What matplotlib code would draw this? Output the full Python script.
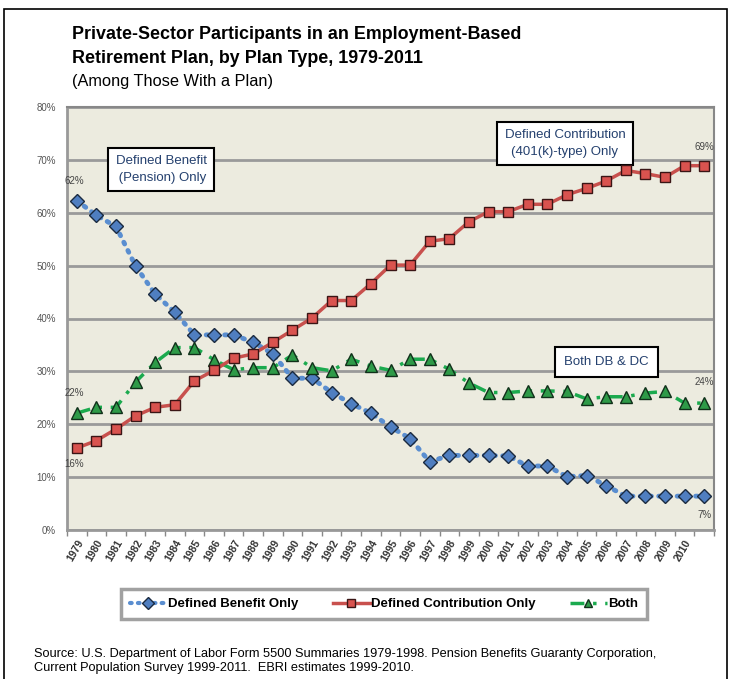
import numpy as np
import matplotlib.pyplot as plt
from matplotlib.patches import Rectangle
from matplotlib.lines import Line2D

plt.rcParams['font.family'] = ['Liberation Sans', 'DejaVu Sans']

# data (percent of participants with a plan)
years = list(range(1979, 2012))
tick_labels = [str(y) for y in range(1979, 2011)]
db_only = [62.3, 59.5, 57.4, 49.9, 44.6, 41.2, 36.9, 36.9, 36.9, 35.5, 33.3,
           28.7, 28.7, 26.0, 23.9, 22.1, 19.5, 17.3, 12.9, 14.1, 14.1, 14.1,
           14.0, 12.1, 12.1, 10.1, 10.3, 8.4, 6.4, 6.4, 6.4, 6.4, 6.4]
dc_only = [15.5, 16.9, 19.1, 21.6, 23.2, 23.7, 28.2, 30.2, 32.5, 33.3, 35.5,
           37.8, 40.1, 43.4, 43.4, 46.6, 50.1, 50.1, 54.6, 55.1, 58.3, 60.2,
           60.2, 61.6, 61.6, 63.4, 64.6, 66.0, 68.0, 67.4, 66.7, 68.9, 68.9]
both = [22.1, 23.2, 23.2, 28.0, 31.7, 34.5, 34.5, 32.2, 30.3, 30.7, 30.7,
        33.1, 30.7, 30.1, 32.3, 31.0, 30.2, 32.3, 32.3, 30.4, 27.8, 26.0,
        26.0, 26.3, 26.3, 26.2, 24.8, 25.2, 25.2, 25.9, 26.2, 24.0, 24.0]

W, H = 730, 679
fig = plt.figure(figsize=(W / 100, H / 100), dpi=100)


def px(x0, y0, x1, y1):
    return [x0 / W, 1 - y1 / H, (x1 - x0) / W, (y1 - y0) / H]


# outer frame
fig.patches.append(Rectangle((4 / W, -0.05), 723 / W, 1.05 - 9 / H, transform=fig.transFigure,
                             fill=False, edgecolor='black', linewidth=1.2))

fig.text(72 / W, 1 - 39 / H, 'Private-Sector Participants in an Employment-Based',
         fontsize=12.9, fontweight='bold', va='baseline', ha='left')
fig.text(72 / W, 1 - 63 / H, 'Retirement Plan, by Plan Type, 1979-2011',
         fontsize=12.9, fontweight='bold', va='baseline', ha='left')
fig.text(72 / W, 1 - 86 / H, '(Among Those With a Plan)', fontsize=11.8, va='baseline', ha='left')

ax = fig.add_axes(px(67, 107, 714, 530))
ax.set_facecolor('#ECEBDF')
x = np.arange(len(years))

db_style = dict(color='#5A8ED0', linestyle=(0, (0.4, 1.5)), dash_capstyle='round')
ax.plot(x, db_only, linewidth=3.5, **db_style,
        marker='D', markersize=7, markerfacecolor='#4F7EC0', markeredgecolor='#1A2A40',
        markeredgewidth=1, zorder=3)
ax.plot(x, dc_only, color='#C8504D', linestyle='-', linewidth=2.5,
        marker='s', markersize=7, markerfacecolor='#D9534F', markeredgecolor='#3A1515',
        markeredgewidth=1, zorder=4)
ax.plot(x, both, color='#1BAA4E', linestyle=(0, (4, 2.5, 1, 2.5)), linewidth=2.5,
        marker='^', markersize=8, markerfacecolor='#2E9A48', markeredgecolor='#10301A',
        markeredgewidth=1, zorder=3)

ax.set_xlim(-0.5, 32.5)
ax.set_ylim(0, 80)
ax.set_yticks(range(0, 81, 10))
ax.set_yticklabels([f'{v}%' for v in range(0, 81, 10)])
ax.yaxis.grid(True, color='#9A9A9A', linewidth=2)
ax.set_axisbelow(True)
ax.tick_params(axis='y', length=0, labelsize=7, labelcolor='#555555', pad=8)

ax.set_xticks(np.arange(-0.5, 33, 1))
ax.set_xticklabels([])
ax.set_xticks(np.arange(len(tick_labels)), minor=True)
ax.set_xticklabels(tick_labels, minor=True, rotation=60, ha='right', va='top',
                   rotation_mode='anchor', fontsize=7.5, fontweight='bold', color='#333333')
ax.tick_params(axis='x', which='major', length=4, color='#888888', width=1)
ax.tick_params(axis='x', which='minor', length=0, pad=6)

for s in ['left', 'bottom']:
    ax.spines[s].set_color('#999999')
    ax.spines[s].set_linewidth(2)
for s in ['top', 'right']:
    ax.spines[s].set_color('#888888')
    ax.spines[s].set_linewidth(1.5)

# point labels
lab = dict(fontsize=7, color='#444444')
ax.annotate('62%', (x[0], db_only[0]), xytext=(-2, 12), textcoords='offset points', ha='center', **lab)
ax.annotate('16%', (x[0], dc_only[0]), xytext=(-2, -14), textcoords='offset points', ha='center', **lab)
ax.annotate('22%', (x[0], both[0]), xytext=(-2, 12), textcoords='offset points', ha='center', **lab)
ax.annotate('69%', (x[-1], dc_only[-1]), xytext=(0, 11), textcoords='offset points', ha='center', **lab)
ax.annotate('24%', (x[-1], both[-1]), xytext=(0, 13), textcoords='offset points', ha='center', **lab)
ax.annotate('7%', (x[-1], db_only[-1]), xytext=(0, -16), textcoords='offset points', ha='center', **lab)

box = dict(boxstyle='square,pad=0.55', facecolor='white', edgecolor='black', linewidth=1.5)
ax.text(4.3, 68.2, 'Defined Benefit\n (Pension) Only', fontsize=9.5, color='#24406E',
        ha='center', va='center', bbox=box, linespacing=1.5)
ax.text(24.9, 73.1, 'Defined Contribution\n(401(k)-type) Only', fontsize=9.5, color='#24406E',
        ha='center', va='center', bbox=box, linespacing=1.5)
ax.text(27.0, 31.8, 'Both DB & DC', fontsize=9.5, color='#24406E',
        ha='center', va='center', bbox=dict(boxstyle='square,pad=0.7', facecolor='white',
                                             edgecolor='black', linewidth=1.5))

handles = [
    Line2D([], [], linewidth=3, **db_style, marker='D', markersize=6,
           markerfacecolor='#4F7EC0', markeredgecolor='#1A2A40'),
    Line2D([], [], color='#C8504D', linewidth=2.5, marker='s', markersize=6,
           markerfacecolor='#D9534F', markeredgecolor='#3A1515'),
    Line2D([], [], color='#1BAA4E', linestyle=(0, (4, 2.5, 1, 2.5)), linewidth=2.5, marker='^', markersize=6,
           markerfacecolor='#2E9A48', markeredgecolor='#10301A'),
]
leg = fig.legend(handles, ['Defined Benefit Only', 'Defined Contribution Only', 'Both'],
                 loc='center', bbox_to_anchor=(384 / W, 1 - 604 / H), ncol=3, frameon=True,
                 fancybox=False, edgecolor='#8A8A8A', handlelength=2.8, handletextpad=0.1,
                 columnspacing=2.6, prop={'weight': 'bold', 'size': 9.5}, borderpad=0.7,
                 borderaxespad=0)
leg.get_frame().set_linewidth(2.5)

fig.text(34 / W, 1 - 657 / H,
         'Source: U.S. Department of Labor Form 5500 Summaries 1979-1998. Pension Benefits Guaranty Corporation,',
         fontsize=9.2, va='baseline', ha='left')
fig.text(34 / W, 1 - 671 / H,
         'Current Population Survey 1999-2011.  EBRI estimates 1999-2010.',
         fontsize=9.2, va='baseline', ha='left')

fig.savefig('out.png', dpi=100)
